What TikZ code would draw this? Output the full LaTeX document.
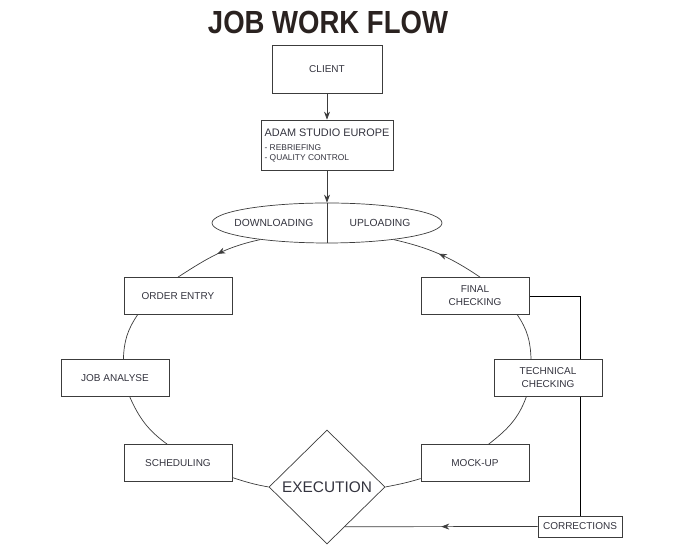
\documentclass[tikz,border=0pt]{standalone}
\usepackage{fontspec}
\setmainfont{Liberation Sans}
\usepackage{graphicx}
\usetikzlibrary{positioning, arrows.meta, calc, shapes.geometric, decorations.markings, backgrounds}
\definecolor{flowInk}{HTML}{34343F}
\definecolor{flowLine}{HTML}{3C3C3C}
\definecolor{flowTitle}{HTML}{2A2220}

\tikzset{
  stepbox/.style={draw=flowLine, fill=white, text=flowInk, minimum width=108pt,
    minimum height=37pt, inner sep=2pt, align=center, font=\fontsize{10}{13}\selectfont},
  midarrow/.style={decoration={markings,
      mark=at position #1 with {\arrow{Stealth[length=8pt,width=6pt]}}},
    postaction={decorate}},
  midarrow/.default=0.5,
  tip/.style={-{Stealth[length=8pt,width=6pt]}}
}

\begin{document}
\begin{tikzpicture}[x=1pt, y=1pt, line width=0.7pt, color=flowLine]
  \useasboundingbox (0,0) rectangle (673,548);

  \node[text=flowTitle, font=\fontsize{32}{32}\selectfont\bfseries] (title) at (328,526)
    {\scalebox{0.86}[1]{JOB WORK FLOW}};

  \node[stepbox, minimum width=110pt, minimum height=48pt] (client) at (327,479) {CLIENT};
  \node[stepbox, minimum width=132pt, minimum height=50pt, inner sep=3.5pt, align=left,
    font=\fontsize{8.4}{9.5}\selectfont] (adam) at (327,403)
    {{\fontsize{10.9}{12}\selectfont ADAM STUDIO EUROPE}\\[5pt]
     - REBRIEFING\\ - QUALITY CONTROL};

  \node[ellipse, draw=flowLine, fill=white, minimum width=230pt, minimum height=40pt,
    inner sep=0pt] (transfer) at (327,325) {};
  \node[text=flowInk, font=\fontsize{10.3}{12}\selectfont, left=10pt of transfer.center] (dl) {DOWNLOADING};
  \node[text=flowInk, font=\fontsize{10.3}{12}\selectfont, right=19pt of transfer.center] (ul) {UPLOADING};

  \foreach \nm/\x/\y/\txt in {%
    oe/178/252/{ORDER ENTRY},
    ja/115/170/{JOB ANALYSE},
    sch/178/85/{SCHEDULING},
    fc/475/252/{FINAL\\CHECKING},
    tc/548/170/{TECHNICAL\\CHECKING},
    mu/475/85/{MOCK-UP}%
  } {
    \node[stepbox] (\nm) at (\x,\y) {\txt};
  }

  \node[diamond, draw=flowLine, fill=white, text=flowInk, minimum width=116pt,
    minimum height=114pt, inner sep=0pt, font=\fontsize{15.4}{16}\selectfont] (exec) at (327,61) {EXECUTION};
  \node[stepbox, minimum width=84pt, minimum height=21pt] (corr) at (580,21.5) {CORRECTIONS};

  % top of the flow
  \draw[tip] (client) -- (adam);
  \draw[tip] (adam) -- (transfer.north);
  \draw (transfer.north) -- (transfer.south);

  % ring
  \draw[midarrow] (transfer.194) to[out=192, in=33] (oe.north);
  \draw (oe.205) to[out=236, in=88] (ja.66);
  \draw (ja.308) to[out=294, in=144] (sch.120);
  \draw (sch.345) to[out=342, in=170] (exec.west);
  \draw (exec.east) to[out=11, in=197] (mu.196);
  \draw (mu.54) to[out=38, in=250] (tc.221);
  \draw (tc.132) to[out=92, in=304] (fc.336);
  \draw[midarrow] (fc.75) to[out=146, in=347] (transfer.346);

  % corrections loop
  \begin{scope}[on background layer]
    \draw (fc.east) -| (corr.north);
  \end{scope}
  \draw[midarrow] (corr.west) -- ($(exec.south)!0.307!(exec.east)$);
\end{tikzpicture}
\end{document}
